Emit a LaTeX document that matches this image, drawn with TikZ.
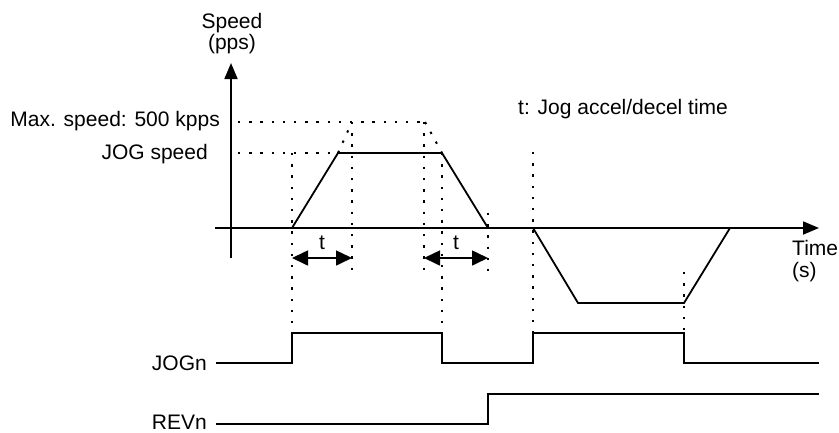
\documentclass[tikz,border=0pt]{standalone}
\usepackage{fontspec}
\setmainfont{Liberation Sans}
\usetikzlibrary{arrows.meta}
\tikzset{
  solidline/.style={line width=1.8pt, line join=miter},
  dotline/.style={line width=2pt, dash pattern=on 2.4pt off 8.8pt},
  axisarrow/.style={solidline, -{Triangle[length=16pt,width=13pt]}},
  tarrow/.style={line width=1.6pt, {Triangle[length=16pt,width=15pt]}-{Triangle[length=16pt,width=15pt]}},
  lbl/.style={inner sep=0pt, font=\fontsize{21pt}{24pt}\selectfont},
}
\begin{document}
\begin{tikzpicture}[x=1pt,y=-1pt]
\useasboundingbox (0,0) rectangle (839,432);
% coordinates
\coordinate (yb) at (231,258); \coordinate (yt) at (231,63);
\coordinate (xl) at (215,228); \coordinate (xr) at (819,228);
\coordinate (a0) at (292,228); \coordinate (a1) at (338,153); \coordinate (a2) at (442,153); \coordinate (a3) at (488,228);
\coordinate (b0) at (533,228); \coordinate (b1) at (578,303); \coordinate (b2) at (684,303); \coordinate (b3) at (730,228);
\coordinate (m0) at (238,122); \coordinate (m1) at (352,122); \coordinate (m2) at (425,122);
\coordinate (j0) at (238,153);
% labels
\node[lbl, anchor=base] (speed) at (232,28) {Speed};
\node[lbl, anchor=base] (pps) at (232,49) {(pps)};
\node[lbl, anchor=base east] (maxs) at (220,126) {Max. speed: 500 kpps};
\node[lbl, anchor=base east] (jogs) at (208,159) {JOG speed};
\node[lbl, anchor=base west] (note) at (518,114) {t: Jog accel/decel time};
\node[lbl, anchor=base west] (time) at (792,255) {Time};
\node[lbl, anchor=base west] (sec) at (792,277) {(s)};
\node[lbl, anchor=base] (t1) at (322,249) {t};
\node[lbl, anchor=base] (t2) at (456,249) {t};
\node[lbl, anchor=base east] (jogn) at (207,370) {JOGn};
\node[lbl, anchor=base east] (revn) at (207,429) {REVn};
% axes
\draw[axisarrow] (yb) -- (yt);
\draw[axisarrow] (xl) -- (xr);
% dotted guides
\draw[dotline] (m0) -- (m2);
\draw[dotline] (a1) -- (m1);
\draw[dotline] (m2) -- (a2);
\draw[dotline] (j0) -- (a1);
\draw[dotline] (292,153) -- (292,333);
\draw[dotline] (352,122) -- (352,270);
\draw[dotline] (424,122) -- (424,272);
\draw[dotline] (442,153) -- (442,333);
\draw[dotline] (488,213) -- (488,272);
\draw[dotline] (533,152) -- (533,333);
\draw[dotline] (684,272) -- (684,333);
% speed profile
\draw[solidline] (a0) -- (a1) -- (a2) -- (a3);
\draw[solidline] (b0) -- (b1) -- (b2) -- (b3);
% t arrows
\coordinate (ta0) at (292,258); \coordinate (ta1) at (352,258);
\coordinate (tb0) at (424,258); \coordinate (tb1) at (488,258);
\draw[tarrow] (ta0) -- (ta1);
\draw[tarrow] (tb0) -- (tb1);
% signals
\draw[solidline] (216,363) -- (292,363) -- (292,333) -- (442,333) -- (442,363) -- (533,363) -- (533,333) -- (684,333) -- (684,363) -- (819,363);
\draw[solidline] (216,424) -- (488,424) -- (488,394) -- (819,394);
\end{tikzpicture}
\end{document}
